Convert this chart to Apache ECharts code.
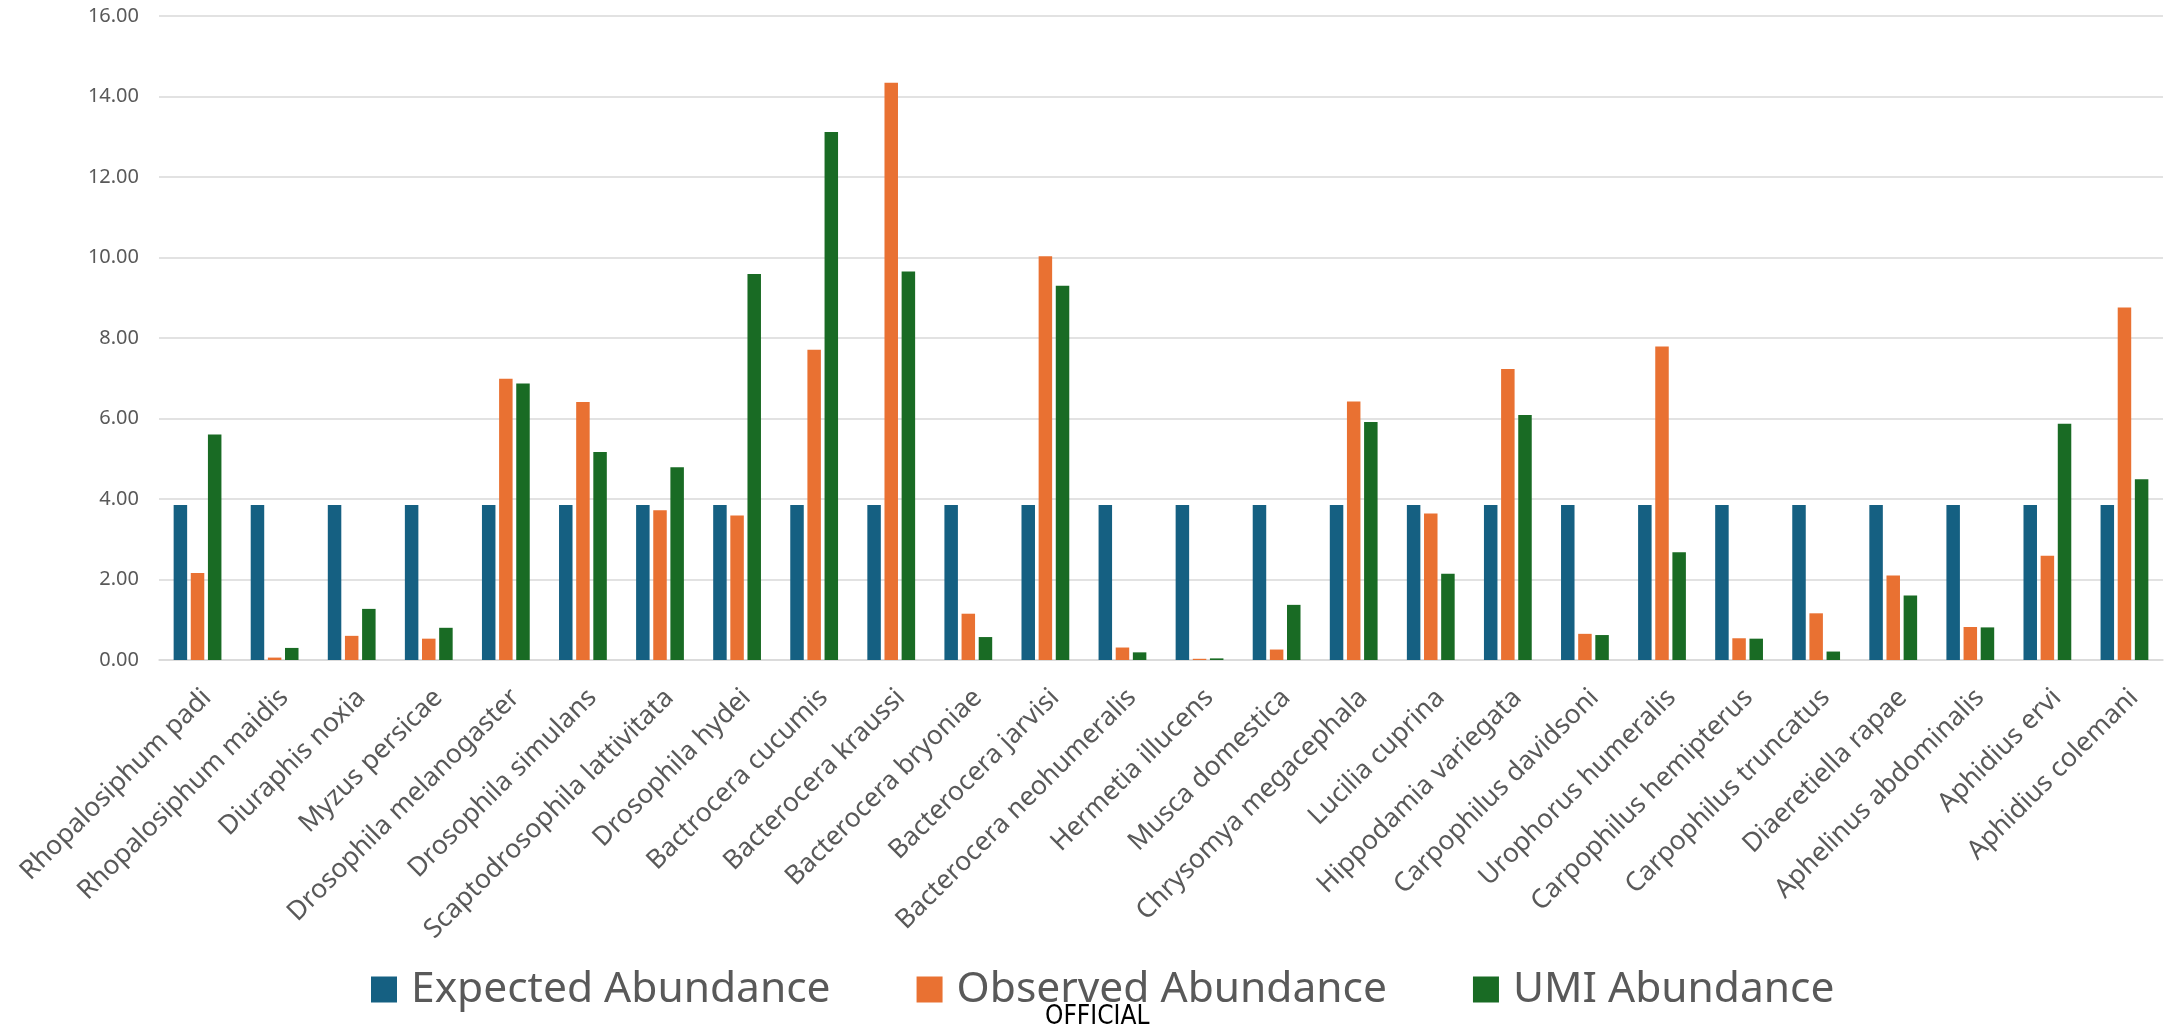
<!DOCTYPE html>
<html>
<head>
<meta charset="utf-8">
<script src="https://cdn.jsdelivr.net/npm/echarts@6/dist/echarts.min.js"></script>
<style>
  html, body { margin: 0; padding: 0; background: #ffffff; }
  #chart { width: 2170px; height: 1028px; }
</style>
</head>
<body>
<div id="chart"></div>
<script>
// Species in the mock community
const species = [
  'Rhopalosiphum padi', 'Rhopalosiphum maidis', 'Diuraphis noxia', 'Myzus persicae',
  'Drosophila melanogaster', 'Drosophila simulans', 'Scaptodrosophila lattivitata',
  'Drosophila hydei', 'Bactrocera cucumis', 'Bacterocera kraussi', 'Bacterocera bryoniae',
  'Bacterocera jarvisi', 'Bacterocera neohumeralis', 'Hermetia illucens', 'Musca domestica',
  'Chrysomya megacephala', 'Lucilia cuprina', 'Hippodamia variegata', 'Carpophilus davidsoni',
  'Urophorus humeralis', 'Carpophilus hemipterus', 'Carpophilus truncatus',
  'Diaeretiella rapae', 'Aphelinus abdominalis', 'Aphidius ervi', 'Aphidius colemani'
];

// Relative abundance (%) per species
const expected = [
  3.85, 3.85, 3.85, 3.85, 3.85, 3.85, 3.85, 3.85, 3.85, 3.85, 3.85, 3.85, 3.85,
  3.85, 3.85, 3.85, 3.85, 3.85, 3.85, 3.85, 3.85, 3.85, 3.85, 3.85, 3.85, 3.85
];
const observed = [
  2.16, 0.06, 0.60, 0.53, 6.99, 6.41, 3.72, 3.59, 7.71, 14.34, 1.15, 10.03, 0.31,
  0.03, 0.26, 6.42, 3.64, 7.23, 0.65, 7.79, 0.54, 1.16, 2.10, 0.82, 2.59, 8.76
];
const umi = [
  5.60, 0.30, 1.27, 0.80, 6.87, 5.17, 4.79, 9.59, 13.12, 9.65, 0.57, 9.30, 0.19,
  0.04, 1.37, 5.91, 2.14, 6.09, 0.62, 2.68, 0.53, 0.21, 1.60, 0.81, 5.87, 4.49
];

const seriesNames = ['Expected Abundance', 'Observed Abundance', 'UMI Abundance'];
const seriesColors = ['#156082', '#E97132', '#196B24'];
const seriesValues = [expected, observed, umi];

const fontFamily = '"Noto Sans", "Liberation Sans", Arial, sans-serif';
const chart = echarts.init(document.getElementById('chart'), null, { renderer: 'canvas' });

chart.setOption({
  animation: false,
  backgroundColor: '#ffffff',
  grid: { left: 159, right: 7, top: 16, bottom: 368, containLabel: false },
  legend: {
    data: seriesNames,
    top: 963,
    left: 366,
    icon: 'rect',
    itemWidth: 26,
    itemHeight: 26,
    itemGap: 86,
    textStyle: { fontSize: 42.5, color: '#595959', fontFamily: fontFamily, padding: [0, 0, 0, 9] }
  },
  xAxis: {
    type: 'category',
    data: species,
    axisLine: { lineStyle: { color: '#d9d9d9', width: 1.5 } },
    axisTick: { show: false },
    axisLabel: {
      interval: 0,
      rotate: 45,
      margin: 24,
      verticalAlign: 'top',
      fontSize: 26.5,
      color: '#595959',
      fontFamily: fontFamily
    }
  },
  yAxis: {
    type: 'value',
    min: 0,
    max: 16,
    interval: 2,
    axisLine: { show: false },
    axisTick: { show: false },
    splitLine: { lineStyle: { color: '#d9d9d9', width: 1.5 } },
    axisLabel: {
      margin: 20,
      fontSize: 20,
      color: '#595959',
      fontFamily: fontFamily,
      formatter: v => v.toFixed(2)
    }
  },
  series: seriesNames.map((name, i) => ({
    name: name,
    type: 'bar',
    data: seriesValues[i],
    barWidth: 13.5,
    barGap: '27%',
    itemStyle: { color: seriesColors[i] }
  })),
  graphic: [{
    type: 'text',
    left: 1045,
    bottom: -2,
    style: { text: 'OFFICIAL', fontSize: 26, fill: '#000000', fontFamily: '"Liberation Sans Narrow", "DejaVu Sans Condensed", sans-serif' }
  }]
});
</script>
</body>
</html>
